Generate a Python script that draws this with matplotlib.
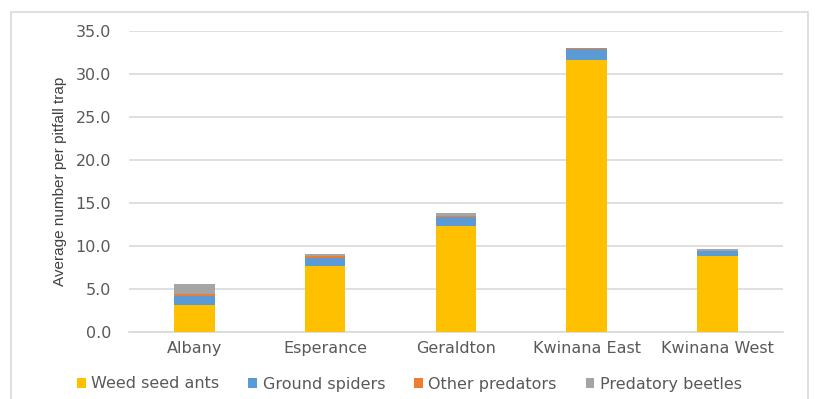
import numpy as np
import matplotlib
matplotlib.use("Agg")
import matplotlib.pyplot as plt
from matplotlib.patches import Rectangle

# --- data ---
sites = ["Albany", "Esperance", "Geraldton", "Kwinana East", "Kwinana West"]
weed_seed_ants = [3.05, 7.65, 12.35, 31.65, 8.8]
ground_spiders = [1.05, 0.95, 1.0, 1.2, 0.55]
other_predators = [0.25, 0.2, 0.1, 0.2, 0.05]
predatory_beetles = [1.25, 0.2, 0.4, 0.02, 0.2]

series = [
    ("Weed seed ants", weed_seed_ants, "#FFC000"),
    ("Ground spiders", ground_spiders, "#5B9BD5"),
    ("Other predators", other_predators, "#ED7D31"),
    ("Predatory beetles", predatory_beetles, "#A5A5A5"),
]

text_color = "#595959"
grid_color = "#D9D9D9"
plt.rcParams["font.family"] = ["DejaVu Sans"]

fig = plt.figure(figsize=(8.19, 3.99), dpi=100)
ax = fig.add_axes([0.1575, 0.1687, 0.7985, 0.7536])

x = np.arange(len(sites))
bottom = np.zeros(len(sites))
for name, vals, col in series:
    ax.bar(x, vals, width=0.31, bottom=bottom, color=col, label=name,
           linewidth=0, zorder=3)
    bottom += np.array(vals)

ax.set_xlim(-0.5, len(sites) - 0.5)
ax.set_ylim(0, 35)
ax.set_yticks(np.arange(0, 35.1, 5))
ax.set_yticklabels(["%.1f" % v for v in np.arange(0, 35.1, 5)])
ax.set_xticks(x)
ax.set_xticklabels(sites)
ax.yaxis.grid(True, color=grid_color, linewidth=1.2, zorder=0)
ax.set_axisbelow(True)
for s in ["top", "right", "left"]:
    ax.spines[s].set_visible(False)
ax.spines["bottom"].set_color(grid_color)
ax.spines["bottom"].set_linewidth(1.2)
ax.tick_params(axis="both", length=0, colors=text_color, labelsize=11.5)
ax.tick_params(axis="y", pad=13)
ax.tick_params(axis="x", pad=7)

# narrower face for the rotated axis title, as in the reference
ax.set_ylabel("Average number per pitfall trap", color="#404040", fontsize=11,
              family=["Liberation Sans", "DejaVu Sans"], labelpad=6)

leg = fig.legend(loc="center", bbox_to_anchor=(0.5, 1 - 384 / 399), ncol=4,
                 frameon=False, fontsize=11.5, handlelength=0.55, handleheight=0.55,
                 handletextpad=0.35, columnspacing=1.8)
for t in leg.get_texts():
    t.set_color(text_color)

# light border around the chart area
fig.patches.append(Rectangle((11 / 819, -0.05), (808 - 11) / 819, 1.05 - 12 / 399,
                             transform=fig.transFigure, fill=False,
                             edgecolor=grid_color, linewidth=1.2))

fig.savefig("out.png", dpi=100)
